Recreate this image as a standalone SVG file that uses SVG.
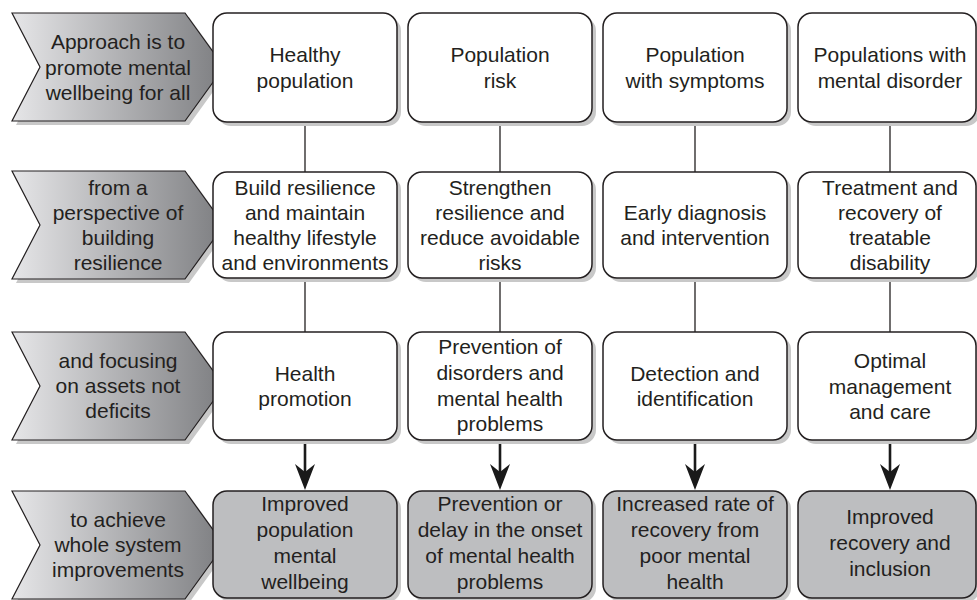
<svg xmlns="http://www.w3.org/2000/svg" width="977" height="600" viewBox="0 0 977 600">
<defs>
<linearGradient id="chev" x1="0" y1="0" x2="1" y2="0">
<stop offset="0" stop-color="#e6e6e8"/>
<stop offset="1" stop-color="#7d7e81"/>
</linearGradient>
<marker id="arr" viewBox="0 0 26 20" refX="14" refY="10" markerWidth="26" markerHeight="20" markerUnits="userSpaceOnUse" orient="auto">
<path d="M0,0 L8,10 L0,20 L26,10 Z" fill="#1a1a1a"/>
</marker>
<path id="chevshape" d="M0,0 H173 L212,54 L173,108 H0 L28,54 Z"/>
</defs>
<style>
.shadow{fill:#c8c8c8;stroke:none}
.box{fill:#ffffff;stroke:#231f20;stroke-width:1.5}
.out{fill:#bdbec0;stroke:#231f20;stroke-width:1.5}
.chev{fill:url(#chev);stroke:#231f20;stroke-width:1.2}
text{font-family:"Liberation Sans",Arial,sans-serif;font-size:21px;fill:#231f20;text-anchor:middle}
.line{stroke:#231f20;stroke-width:1.3;fill:none}
.arrow{stroke:#1a1a1a;stroke-width:2.6;fill:none}
</style>

<!-- Chevrons -->
<g id="chev1">
<use href="#chevshape" x="16" y="17" class="shadow"/>
<use href="#chevshape" x="12" y="13" class="chev"/>
<text x="118" y="49">Approach is to</text>
<text x="118" y="75">promote mental</text>
<text x="118" y="100">wellbeing for all</text>
</g>
<g id="chev2">
<use href="#chevshape" x="16" y="175" class="shadow"/>
<use href="#chevshape" x="12" y="171" class="chev"/>
<text x="118" y="195">from a</text>
<text x="118" y="220">perspective of</text>
<text x="118" y="245">building</text>
<text x="118" y="270">resilience</text>
</g>
<g id="chev3">
<use href="#chevshape" x="16" y="336" class="shadow"/>
<use href="#chevshape" x="12" y="332" class="chev"/>
<text x="118" y="368">and focusing</text>
<text x="118" y="393">on assets not</text>
<text x="118" y="418">deficits</text>
</g>
<g id="chev4">
<use href="#chevshape" x="16" y="495" class="shadow"/>
<use href="#chevshape" x="12" y="491" class="chev"/>
<text x="118" y="527">to achieve</text>
<text x="118" y="552">whole system</text>
<text x="118" y="577">improvements</text>
</g>

<!-- Connectors -->
<g id="connectors">
<line class="line" x1="305" y1="122" x2="305" y2="172"/>
<line class="line" x1="500" y1="122" x2="500" y2="172"/>
<line class="line" x1="695" y1="122" x2="695" y2="172"/>
<line class="line" x1="890" y1="122" x2="890" y2="172"/>
<line class="line" x1="305" y1="278" x2="305" y2="332"/>
<line class="line" x1="500" y1="278" x2="500" y2="332"/>
<line class="line" x1="695" y1="278" x2="695" y2="332"/>
<line class="line" x1="890" y1="278" x2="890" y2="332"/>
<line class="arrow" x1="305" y1="440" x2="305" y2="478" marker-end="url(#arr)"/>
<line class="arrow" x1="500" y1="440" x2="500" y2="478" marker-end="url(#arr)"/>
<line class="arrow" x1="695" y1="440" x2="695" y2="478" marker-end="url(#arr)"/>
<line class="arrow" x1="890" y1="440" x2="890" y2="478" marker-end="url(#arr)"/>
</g>

<!-- Row 1 -->
<g id="r1c1">
<rect class="shadow" x="217" y="17" width="184" height="109" rx="14"/>
<rect class="box" x="213" y="13" width="184" height="109" rx="14"/>
<text x="305" y="62">Healthy</text>
<text x="305" y="88">population</text>
</g>
<g id="r1c2">
<rect class="shadow" x="412" y="17" width="184" height="109" rx="14"/>
<rect class="box" x="408" y="13" width="184" height="109" rx="14"/>
<text x="500" y="62">Population</text>
<text x="500" y="88">risk</text>
</g>
<g id="r1c3">
<rect class="shadow" x="607" y="17" width="184" height="109" rx="14"/>
<rect class="box" x="603" y="13" width="184" height="109" rx="14"/>
<text x="695" y="62">Population</text>
<text x="695" y="88">with symptoms</text>
</g>
<g id="r1c4">
<rect class="shadow" x="802" y="17" width="178" height="109" rx="14"/>
<rect class="box" x="798" y="13" width="178" height="109" rx="14"/>
<text x="890" y="62">Populations with</text>
<text x="890" y="88">mental disorder</text>
</g>

<!-- Row 2 -->
<g id="r2c1">
<rect class="shadow" x="217" y="176" width="184" height="106" rx="14"/>
<rect class="box" x="213" y="172" width="184" height="106" rx="14"/>
<text x="305" y="195">Build resilience</text>
<text x="305" y="220">and maintain</text>
<text x="305" y="245">healthy lifestyle</text>
<text x="305" y="270">and environments</text>
</g>
<g id="r2c2">
<rect class="shadow" x="412" y="176" width="184" height="106" rx="14"/>
<rect class="box" x="408" y="172" width="184" height="106" rx="14"/>
<text x="500" y="195">Strengthen</text>
<text x="500" y="220">resilience and</text>
<text x="500" y="245">reduce avoidable</text>
<text x="500" y="270">risks</text>
</g>
<g id="r2c3">
<rect class="shadow" x="607" y="176" width="184" height="106" rx="14"/>
<rect class="box" x="603" y="172" width="184" height="106" rx="14"/>
<text x="695" y="220">Early diagnosis</text>
<text x="695" y="245">and intervention</text>
</g>
<g id="r2c4">
<rect class="shadow" x="802" y="176" width="178" height="106" rx="14"/>
<rect class="box" x="798" y="172" width="178" height="106" rx="14"/>
<text x="890" y="195">Treatment and</text>
<text x="890" y="220">recovery of</text>
<text x="890" y="245">treatable</text>
<text x="890" y="270">disability</text>
</g>

<!-- Row 3 -->
<g id="r3c1">
<rect class="shadow" x="217" y="336" width="184" height="108" rx="14"/>
<rect class="box" x="213" y="332" width="184" height="108" rx="14"/>
<text x="305" y="381">Health</text>
<text x="305" y="406">promotion</text>
</g>
<g id="r3c2">
<rect class="shadow" x="412" y="336" width="184" height="108" rx="14"/>
<rect class="box" x="408" y="332" width="184" height="108" rx="14"/>
<text x="500" y="354">Prevention of</text>
<text x="500" y="380">disorders and</text>
<text x="500" y="406">mental health</text>
<text x="500" y="431">problems</text>
</g>
<g id="r3c3">
<rect class="shadow" x="607" y="336" width="184" height="108" rx="14"/>
<rect class="box" x="603" y="332" width="184" height="108" rx="14"/>
<text x="695" y="381">Detection and</text>
<text x="695" y="406">identification</text>
</g>
<g id="r3c4">
<rect class="shadow" x="802" y="336" width="178" height="108" rx="14"/>
<rect class="box" x="798" y="332" width="178" height="108" rx="14"/>
<text x="890" y="368">Optimal</text>
<text x="890" y="394">management</text>
<text x="890" y="419">and care</text>
</g>

<!-- Row 4 -->
<g id="r4c1">
<rect class="shadow" x="217" y="495" width="184" height="107" rx="14"/>
<rect class="out" x="213" y="491" width="184" height="107" rx="14"/>
<text x="305" y="511">Improved</text>
<text x="305" y="537">population</text>
<text x="305" y="563">mental</text>
<text x="305" y="589">wellbeing</text>
</g>
<g id="r4c2">
<rect class="shadow" x="412" y="495" width="184" height="107" rx="14"/>
<rect class="out" x="408" y="491" width="184" height="107" rx="14"/>
<text x="500" y="511">Prevention or</text>
<text x="500" y="537">delay in the onset</text>
<text x="500" y="563">of mental health</text>
<text x="500" y="589">problems</text>
</g>
<g id="r4c3">
<rect class="shadow" x="607" y="495" width="184" height="107" rx="14"/>
<rect class="out" x="603" y="491" width="184" height="107" rx="14"/>
<text x="695" y="511">Increased rate of</text>
<text x="695" y="537">recovery from</text>
<text x="695" y="563">poor mental</text>
<text x="695" y="589">health</text>
</g>
<g id="r4c4">
<rect class="shadow" x="802" y="495" width="178" height="107" rx="14"/>
<rect class="out" x="798" y="491" width="178" height="107" rx="14"/>
<text x="890" y="524">Improved</text>
<text x="890" y="550">recovery and</text>
<text x="890" y="576">inclusion</text>
</g>
</svg>
